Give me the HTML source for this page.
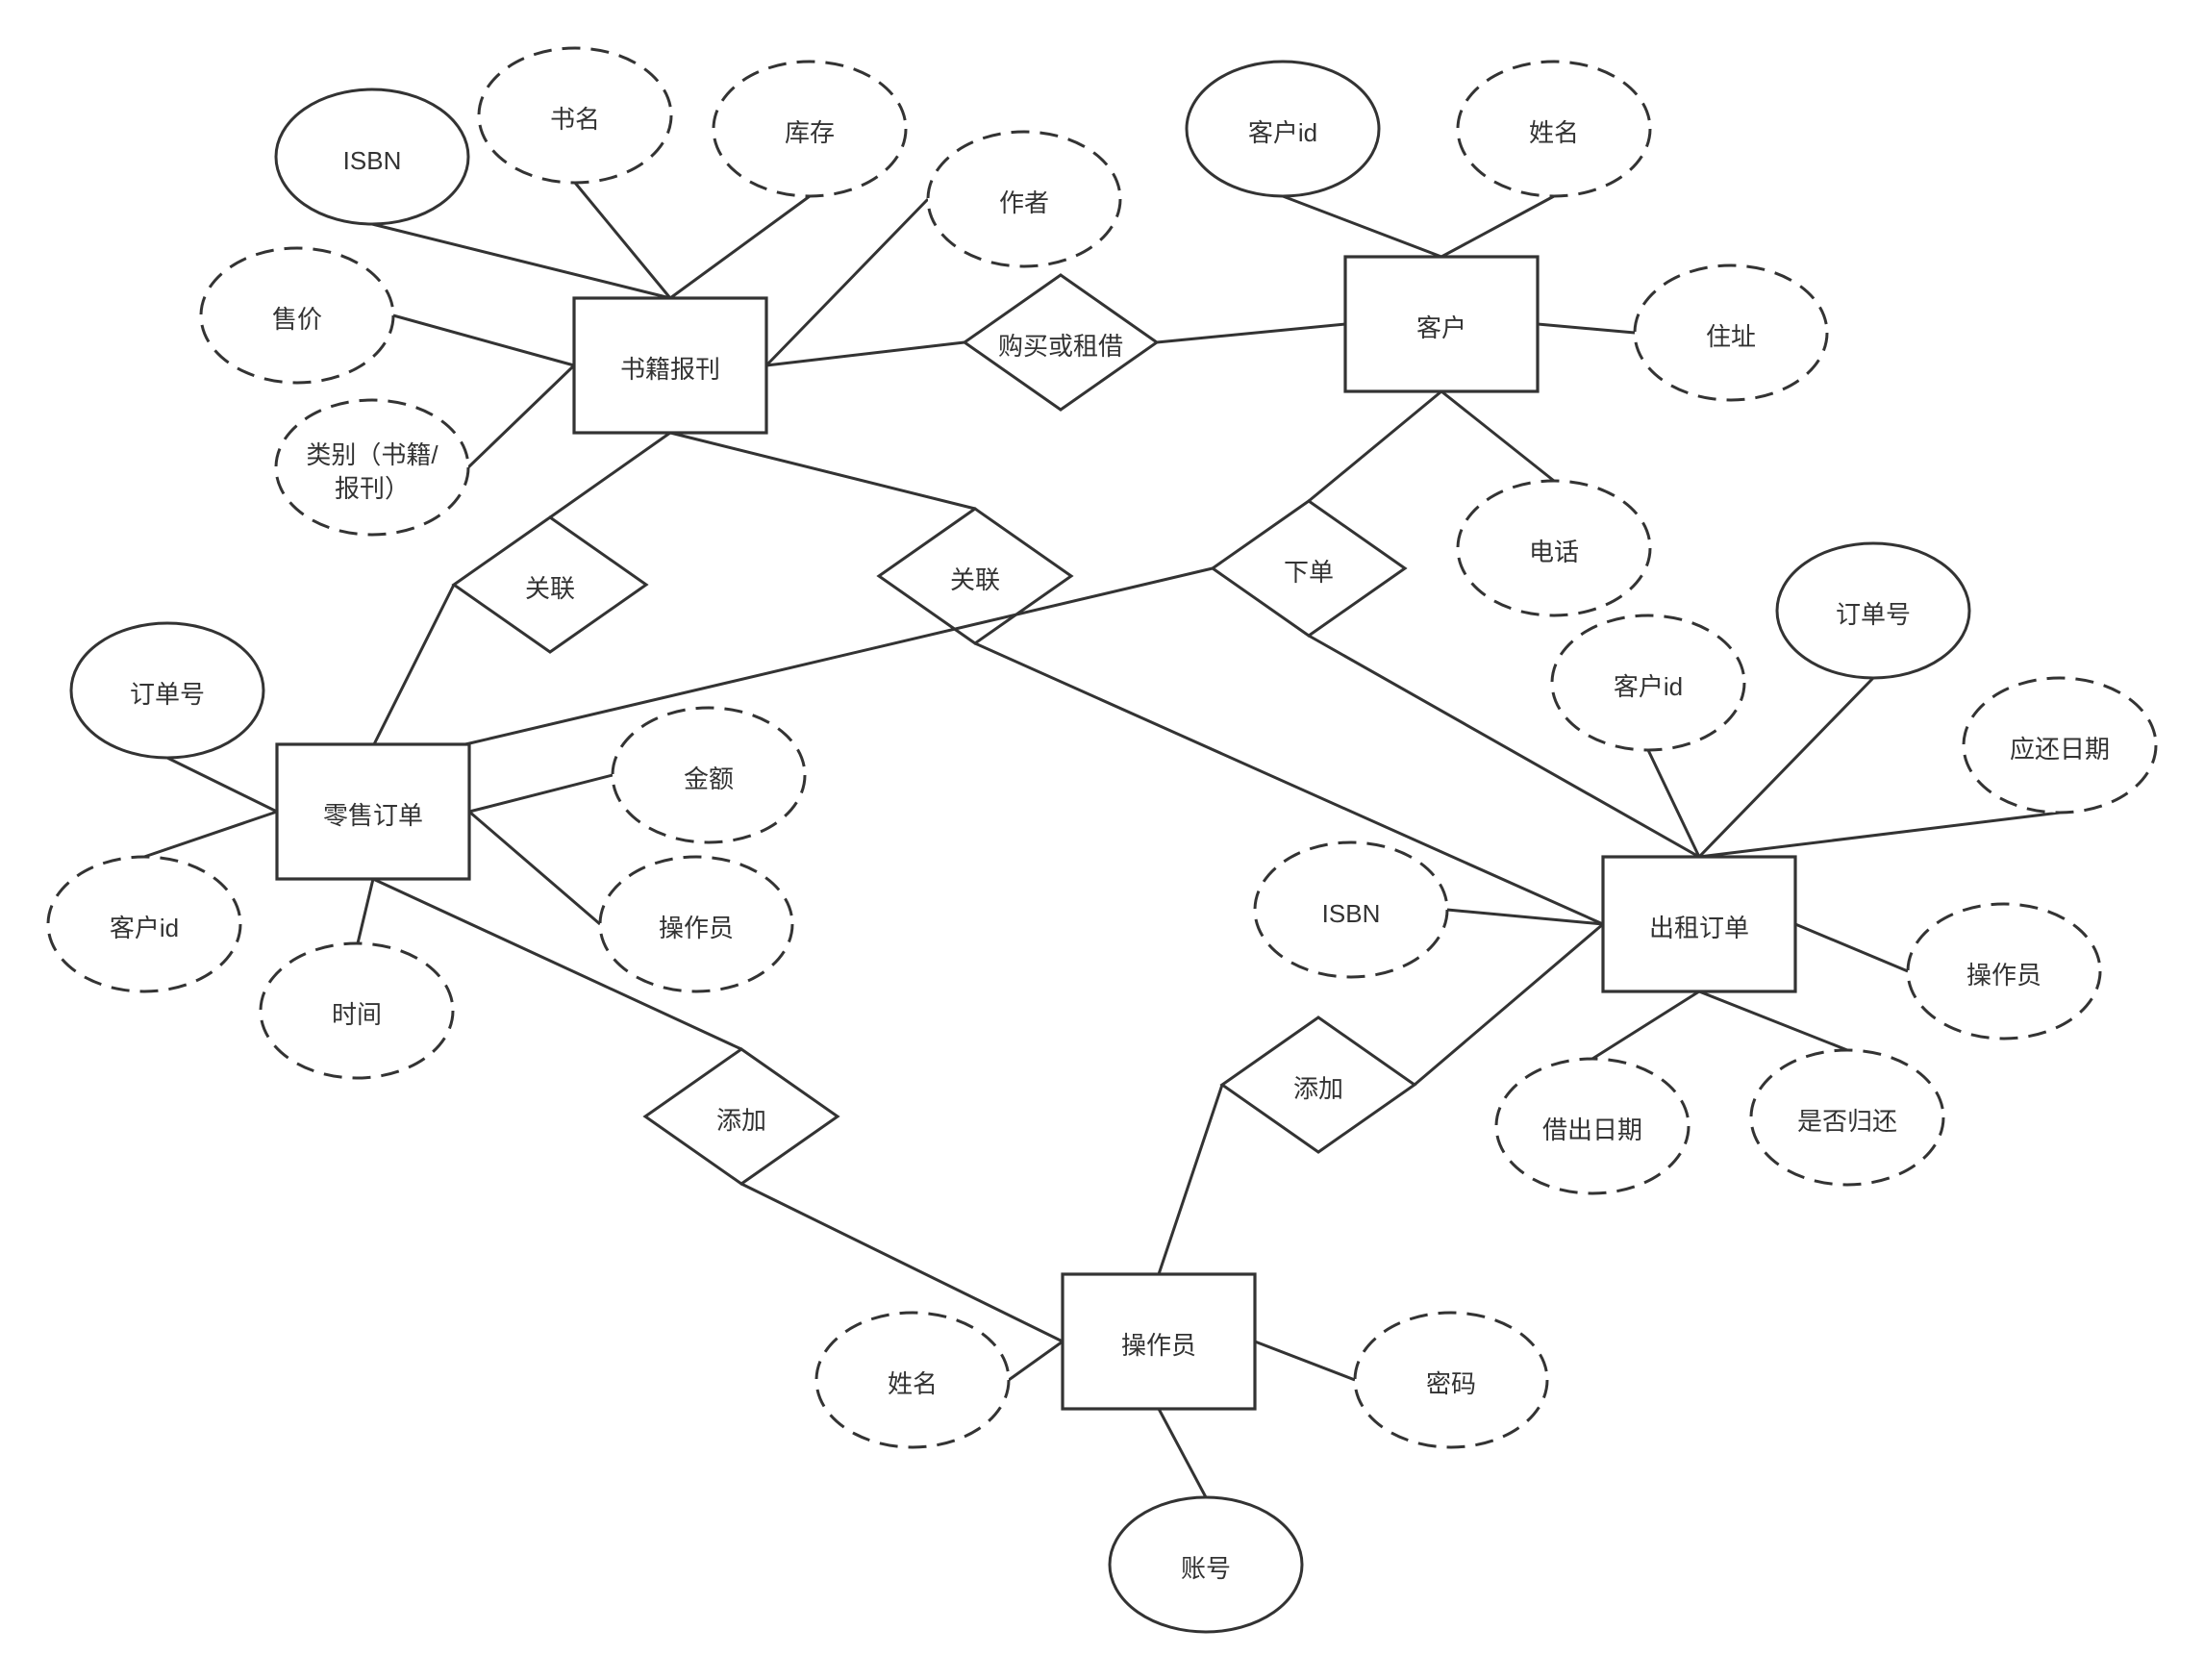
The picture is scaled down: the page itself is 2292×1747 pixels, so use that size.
<!DOCTYPE html>
<html>
<head>
<meta charset="utf-8">
<style>
html,body{margin:0;padding:0;background:#fff;}
svg{display:block;}
text{font-family:"Liberation Sans","Noto Sans CJK SC",sans-serif;font-size:26px;fill:#333;text-anchor:middle;}
</style>
</head>
<body>
<svg width="2292" height="1747" viewBox="0 0 2292 1747" xmlns="http://www.w3.org/2000/svg">
<rect x="0" y="0" width="2292" height="1747" fill="#fff"/>
<g stroke="#333" stroke-width="3" fill="none" stroke-linecap="butt">
<line x1="387" y1="233" x2="697" y2="310"/>
<line x1="598" y1="190" x2="697" y2="310"/>
<line x1="842" y1="204" x2="697" y2="310"/>
<line x1="965" y1="207" x2="797" y2="380"/>
<line x1="409" y1="328" x2="597" y2="380"/>
<line x1="487" y1="486" x2="597" y2="380"/>
<line x1="797" y1="380" x2="1003" y2="356"/>
<line x1="1203" y1="356" x2="1399" y2="337"/>
<line x1="697" y1="450" x2="572" y2="538"/>
<line x1="697" y1="450" x2="1014" y2="529"/>
<line x1="1334" y1="204" x2="1499" y2="267"/>
<line x1="1616" y1="204" x2="1499" y2="267"/>
<line x1="1599" y1="337" x2="1700" y2="346"/>
<line x1="1499" y1="407" x2="1361" y2="521"/>
<line x1="1499" y1="407" x2="1616" y2="500"/>
<line x1="1361" y1="661" x2="1767" y2="891"/>
<line x1="1014" y1="669" x2="1667" y2="961"/>
<line x1="389" y1="774" x2="472" y2="608"/>
<line x1="174" y1="788" x2="288" y2="844"/>
<line x1="150" y1="891" x2="288" y2="844"/>
<line x1="488" y1="844" x2="637" y2="806"/>
<line x1="488" y1="844" x2="624" y2="961"/>
<line x1="388" y1="914" x2="372" y2="981"/>
<line x1="388" y1="914" x2="771" y2="1091"/>
<line x1="771" y1="1231" x2="1105" y2="1395"/>
<line x1="1049" y1="1435" x2="1105" y2="1395"/>
<line x1="1305" y1="1395" x2="1409" y2="1435"/>
<line x1="1205" y1="1465" x2="1254" y2="1557"/>
<line x1="1205" y1="1325" x2="1271" y2="1128"/>
<line x1="1471" y1="1128" x2="1667" y2="961"/>
<line x1="1505" y1="946" x2="1667" y2="961"/>
<line x1="1714" y1="780" x2="1767" y2="891"/>
<line x1="1948" y1="705" x2="1767" y2="891"/>
<line x1="2142" y1="845" x2="1767" y2="891"/>
<line x1="1867" y1="961" x2="1984" y2="1010"/>
<line x1="1767" y1="1031" x2="1656" y2="1101"/>
<line x1="1767" y1="1031" x2="1921" y2="1092"/>
</g>

<!-- Entities -->
<g stroke="#333" stroke-width="3.2" fill="#fff">
<rect x="597" y="310" width="200" height="140"/>
<rect x="1399" y="267" width="200" height="140"/>
<rect x="288" y="774" width="200" height="140"/>
<rect x="1667" y="891" width="200" height="140"/>
<rect x="1105" y="1325" width="200" height="140"/>
</g>

<!-- Solid ellipses -->
<g stroke="#333" stroke-width="3" fill="#fff">
<ellipse cx="387" cy="163" rx="100" ry="70"/>
<ellipse cx="1334" cy="134" rx="100" ry="70"/>
<ellipse cx="174" cy="718" rx="100" ry="70"/>
<ellipse cx="1948" cy="635" rx="100" ry="70"/>
<ellipse cx="1254" cy="1627" rx="100" ry="70"/>
</g>

<!-- Dashed ellipses -->
<g stroke="#333" stroke-width="3" fill="#fff" stroke-dasharray="19 11">
<ellipse cx="598" cy="120" rx="100" ry="70"/>
<ellipse cx="842" cy="134" rx="100" ry="70"/>
<ellipse cx="1065" cy="207" rx="100" ry="70"/>
<ellipse cx="309" cy="328" rx="100" ry="70"/>
<ellipse cx="387" cy="486" rx="100" ry="70"/>
<ellipse cx="1616" cy="134" rx="100" ry="70"/>
<ellipse cx="1800" cy="346" rx="100" ry="70"/>
<ellipse cx="1616" cy="570" rx="100" ry="70"/>
<ellipse cx="150" cy="961" rx="100" ry="70"/>
<ellipse cx="371" cy="1051" rx="100" ry="70"/>
<ellipse cx="737" cy="806" rx="100" ry="70"/>
<ellipse cx="724" cy="961" rx="100" ry="70"/>
<ellipse cx="1714" cy="710" rx="100" ry="70"/>
<ellipse cx="2142" cy="775" rx="100" ry="70"/>
<ellipse cx="1405" cy="946" rx="100" ry="70"/>
<ellipse cx="2084" cy="1010" rx="100" ry="70"/>
<ellipse cx="1656" cy="1171" rx="100" ry="70"/>
<ellipse cx="1921" cy="1162" rx="100" ry="70"/>
<ellipse cx="949" cy="1435" rx="100" ry="70"/>
<ellipse cx="1509" cy="1435" rx="100" ry="70"/>
</g>

<!-- Diamonds -->
<g stroke="#333" stroke-width="3" fill="#fff">
<polygon points="1103,286 1203,356 1103,426 1003,356"/>
<polygon points="572,538 672,608 572,678 472,608"/>
<polygon points="1014,529 1114,599 1014,669 914,599"/>
<polygon points="1361,521 1461,591 1361,661 1261,591"/>
<polygon points="771,1091 871,1161 771,1231 671,1161"/>
<polygon points="1371,1058 1471,1128 1371,1198 1271,1128"/>
</g>

<!-- line drawn over diamond -->
<line x1="1261" y1="591" x2="484" y2="774" stroke="#333" stroke-width="3"/>

<!-- Labels -->
<g>
<text x="697" y="393">书籍报刊</text>
<text x="1499" y="350">客户</text>
<text x="388" y="857">零售订单</text>
<text x="1767" y="974">出租订单</text>
<text x="1205" y="1408">操作员</text>

<text x="387" y="176">ISBN</text>
<text x="1334" y="147">客户id</text>
<text x="174" y="731">订单号</text>
<text x="1948" y="648">订单号</text>
<text x="1254" y="1640">账号</text>

<text x="598" y="133">书名</text>
<text x="842" y="147">库存</text>
<text x="1065" y="220">作者</text>
<text x="309" y="341">售价</text>
<text x="387" y="482">类别（书籍/</text>
<text x="387" y="517">报刊）</text>
<text x="1616" y="147">姓名</text>
<text x="1800" y="359">住址</text>
<text x="1616" y="583">电话</text>
<text x="150" y="974">客户id</text>
<text x="371" y="1064">时间</text>
<text x="737" y="819">金额</text>
<text x="724" y="974">操作员</text>
<text x="1714" y="723">客户id</text>
<text x="2142" y="788">应还日期</text>
<text x="1405" y="959">ISBN</text>
<text x="2084" y="1023">操作员</text>
<text x="1656" y="1184">借出日期</text>
<text x="1921" y="1175">是否归还</text>
<text x="949" y="1448">姓名</text>
<text x="1509" y="1448">密码</text>

<text x="1103" y="369">购买或租借</text>
<text x="572" y="621">关联</text>
<text x="1014" y="612">关联</text>
<text x="1361" y="604">下单</text>
<text x="771" y="1174">添加</text>
<text x="1371" y="1141">添加</text>
</g>
</svg>
</body>
</html>
